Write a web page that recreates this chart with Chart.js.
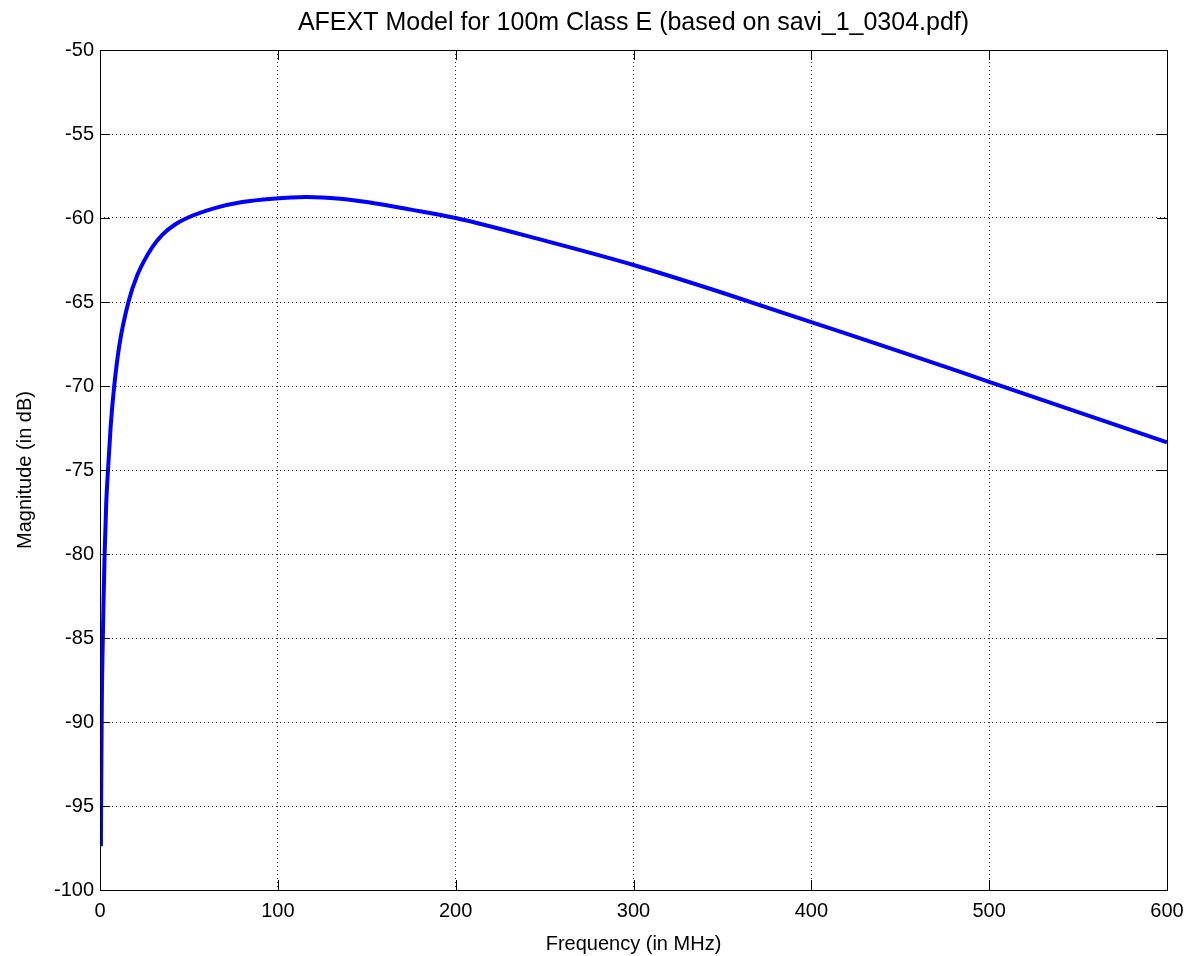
<!DOCTYPE html>
<html lang="en">
<head>
  <meta charset="UTF-8">
  <title>AFEXT Model</title>
  <script src="https://cdn.jsdelivr.net/npm/chart.js"></script>
  <style>
    * { margin: 0; padding: 0; box-sizing: border-box; }
    body { background: #fff; }
    .chart-box { width: 1192px; height: 956px; }
  </style>
</head>
<body>
  <div class="chart-box">
    <canvas id="afextChart"></canvas>
  </div>

<script>
  // frequency in MHz and magnitude in dB
  const freqs = [0.5, 1, 1.5, 2, 2.6, 3.5, 4.5, 6, 8, 11, 16, 21, 29, 35, 42, 49, 65, 80, 97, 116, 135, 150, 175, 200, 250, 300, 350, 400, 450, 500, 550, 600];
  const magnitudes = [-97.4, -89, -85.5, -82.8, -80, -77, -75, -72.4, -70, -67.5, -65, -63.4, -61.8, -61, -60.4, -60, -59.4, -59.05, -58.85, -58.75, -58.85, -59.05, -59.5, -60, -61.35, -62.8, -64.45, -66.2, -67.95, -69.75, -71.55, -73.35];
  const xTicks = [0, 100, 200, 300, 400, 500, 600];
  const yTicks = [-50, -55, -60, -65, -70, -75, -80, -85, -90, -95, -100];

  const titleText = 'AFEXT Model for 100m Class E (based on savi_1_0304.pdf)';
  const font = "'Liberation Sans', Arial, sans-serif";

  // box around the axes, small inward ticks and a title centred over the axes, like matlab
  const boxPlugin = {
    id: 'box',
    afterDraw(chart) {
      const { ctx, chartArea: a, scales } = chart;
      ctx.save();
      ctx.strokeStyle = '#000';
      ctx.lineWidth = 1;
      ctx.strokeRect(a.left + 0.5, a.top + 0.5, a.right - a.left, a.bottom - a.top);
      ctx.beginPath();
      xTicks.forEach(v => {
        const x = Math.round(scales.x.getPixelForValue(v)) + 0.5;
        ctx.moveTo(x, a.bottom); ctx.lineTo(x, a.bottom - 10);
        ctx.moveTo(x, a.top); ctx.lineTo(x, a.top + 10);
      });
      yTicks.forEach(v => {
        const y = Math.round(scales.y.getPixelForValue(v)) + 0.5;
        ctx.moveTo(a.left, y); ctx.lineTo(a.left + 10, y);
        ctx.moveTo(a.right, y); ctx.lineTo(a.right - 10, y);
      });
      ctx.stroke();

      ctx.fillStyle = '#000';
      ctx.font = '25px ' + font;
      ctx.textAlign = 'center';
      ctx.textBaseline = 'middle';
      ctx.fillText(titleText, (a.left + a.right) / 2, 23);
      ctx.restore();
    }
  };

  new Chart(document.getElementById('afextChart'), {
    type: 'line',
    data: {
      datasets: [{
        data: freqs.map((f, i) => ({ x: f, y: magnitudes[i] })),
        borderColor: '#0000ff',
        borderWidth: 4,
        pointRadius: 0,
        cubicInterpolationMode: 'monotone',
        fill: false
      }]
    },
    options: {
      responsive: true,
      maintainAspectRatio: false,
      animation: false,
      layout: { padding: { left: 0, right: 25, top: 50, bottom: 0 } },
      plugins: {
        legend: { display: false },
        tooltip: { enabled: false },
        title: { display: false }
      },
      scales: {
        x: {
          type: 'linear',
          min: 0, max: 600,
          afterBuildTicks: s => { s.ticks = xTicks.map(v => ({ value: v })); },
          afterFit: s => { s.paddingRight = 0; s.paddingLeft = 0; },
          ticks: { color: '#000', font: { family: font, size: 20 }, padding: 9, maxRotation: 0 },
          grid: { color: '#333', lineWidth: 1, drawTicks: false },
          border: { display: false, dash: [1, 3] },
          title: { display: true, text: 'Frequency (in MHz)', color: '#000', font: { family: font, size: 20 }, padding: { top: 0, bottom: 0 } }
        },
        y: {
          min: -100, max: -50,
          afterBuildTicks: s => { s.ticks = yTicks.map(v => ({ value: v })); },
          afterFit: s => { s.width = 100; },
          ticks: { color: '#000', font: { family: font, size: 20 }, padding: 6 },
          grid: { color: '#333', lineWidth: 1, drawTicks: false },
          border: { display: false, dash: [1, 3] },
          title: { display: true, text: 'Magnitude (in dB)', color: '#000', font: { family: font, size: 20 }, padding: { top: 13, bottom: 0 } }
        }
      }
    },
    plugins: [boxPlugin]
  });
</script>
</body>
</html>
